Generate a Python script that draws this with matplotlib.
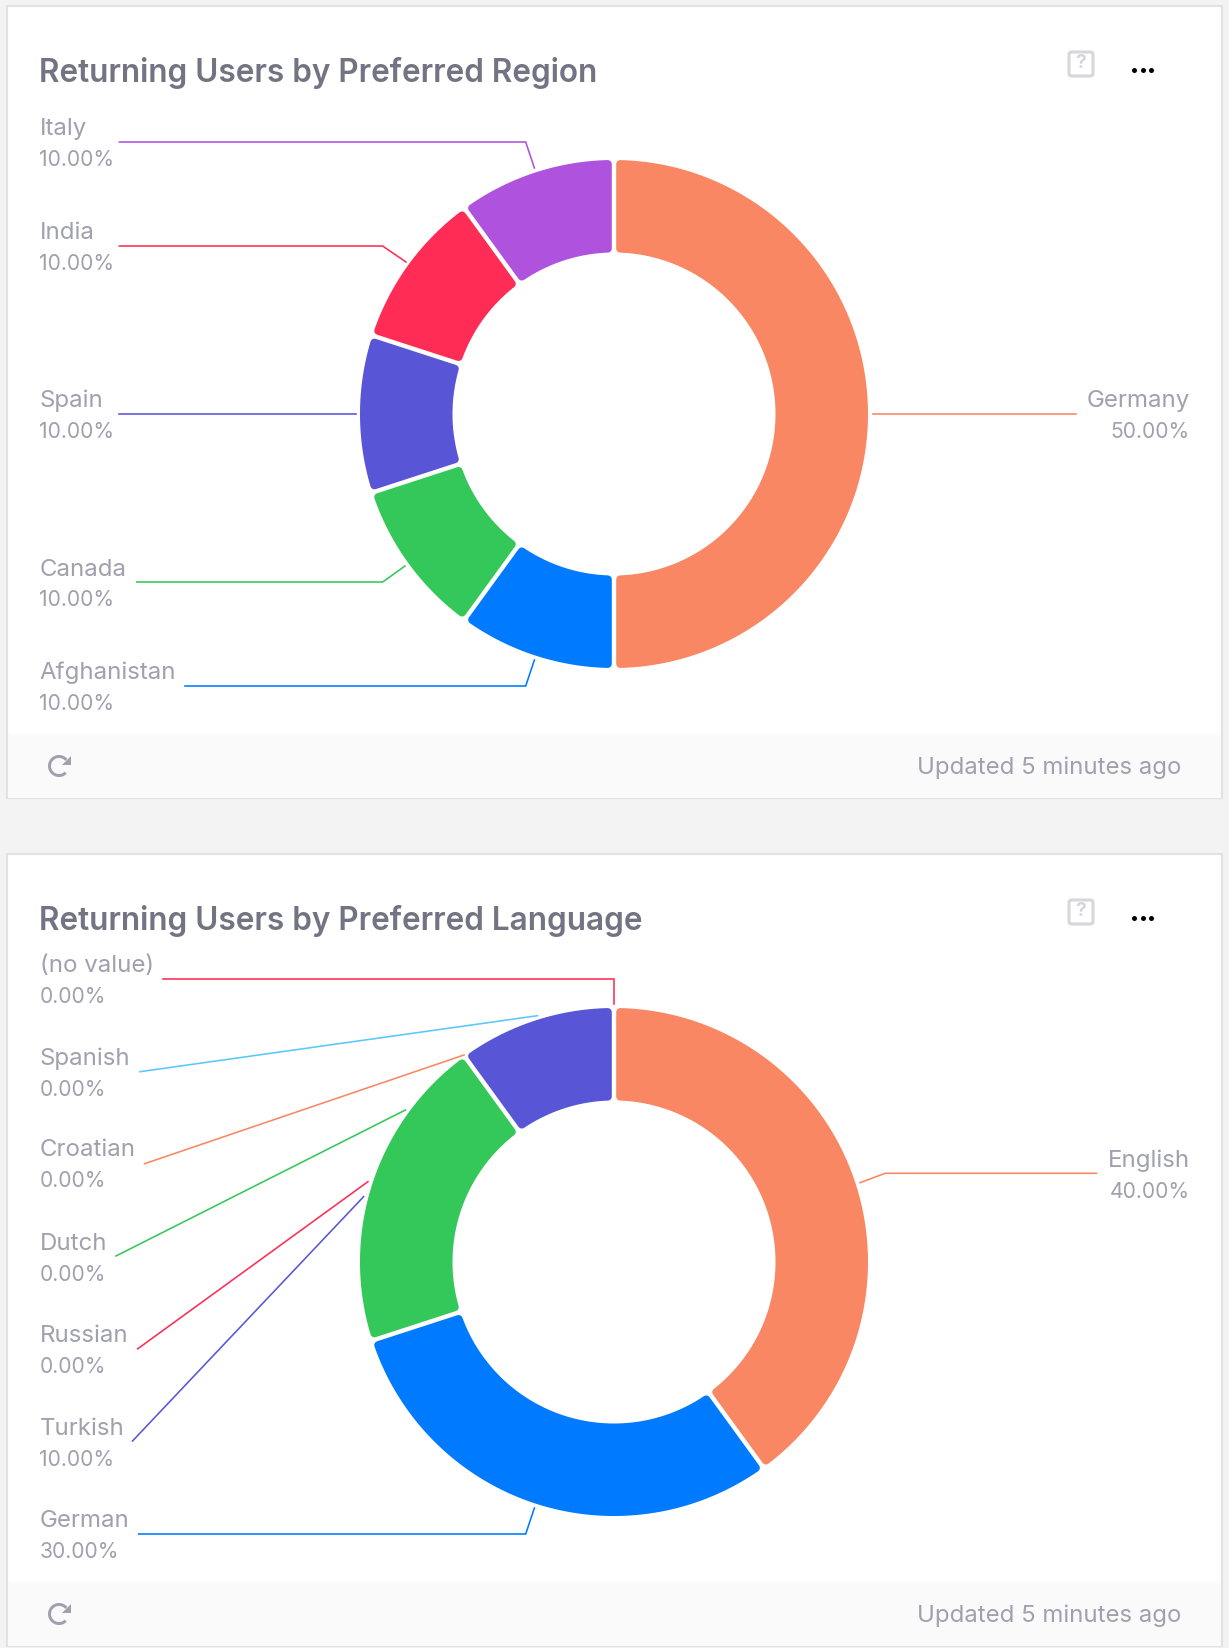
import numpy as np
import matplotlib
matplotlib.use("Agg")
import matplotlib.pyplot as plt
from matplotlib.patches import Arc, FancyBboxPatch, Polygon, Rectangle

plt.rcParams["font.family"] = ["Inter", "DejaVu Sans"]

W, H = 1229, 1648
PX = 72 / 100  # points per pixel at dpi 100

CARD_OFFSET = 848
CX, CY = 614, 414
R_OUT, R_IN = 254, 161.5
CORNER, HALF_GAP = 4.0, 2.2

ORANGE, BLUE, GREEN = "#F98763", "#007AFF", "#34C759"
INDIGO, RED, PURPLE, SKY = "#5856D6", "#FF2D55", "#AF52DE", "#5AC8FA"
TITLE_COL, LABEL_COL, ICON_COL = "#737383", "#A0A0AF", "#D6D6DC"

region_title = "Returning Users by Preferred Region"
region_slices = [50, 10, 10, 10, 10, 10]
region_colors = [ORANGE, BLUE, GREEN, INDIGO, RED, PURPLE]
region_names = ["Germany", "Afghanistan", "Canada", "Spain", "India", "Italy"]
region_pcts = ["50.00%", "10.00%", "10.00%", "10.00%", "10.00%", "10.00%"]

language_title = "Returning Users by Preferred Language"
language_slices = [40, 30, 20, 10]
language_colors = [ORANGE, BLUE, GREEN, INDIGO]
language_names = ["English", "German", "Turkish", "Russian", "Dutch", "Croatian", "Spanish", "(no value)"]
language_pcts = ["40.00%", "30.00%", "10.00%", "0.00%", "0.00%", "0.00%", "0.00%", "0.00%"]
language_line_colors = [ORANGE, BLUE, INDIGO, RED, GREEN, ORANGE, SKY, RED]

# leader lines in image pixels, same order as the names
region_leaders = [
    [(1075.5, 414), (872.5, 414)],
    [(185, 686), (525.7, 686), (534.4, 660)],
    [(136.7, 582), (382.7, 582), (405, 566)],
    [(119.4, 414), (355.7, 414)],
    [(119.4, 246), (382.6, 246), (406, 262)],
    [(119.4, 142), (525.7, 142), (534.4, 168)],
]
language_leaders = [
    [(1096.5, 1173.3), (885.2, 1173.3), (860, 1182.7)],
    [(138.8, 1534), (525.7, 1534), (534.4, 1508)],
    [(132.5, 1441), (363.6, 1196.7)],
    [(137.7, 1348.8), (367.9, 1181.7)],
    [(116, 1256), (405.4, 1110)],
    [(144.6, 1163.7), (464, 1055)],
    [(140, 1071.7), (537.5, 1015.7)],
    [(162.5, 979), (614, 979), (614, 1004)],
]
# y of the name line, x is fixed per side
region_label_y = [401, 673, 569.5, 401, 233, 129]
language_label_y = [1160.5, 1521, 1428.6, 1336, 1243.7, 1150, 1058.7, 966]


def ring_outline(theta1, theta2):
    """Wedge outline pulled in, so a round stroke gives the rounded corners."""
    ro, ri = R_OUT - CORNER, R_IN + CORNER
    d = HALF_GAP + CORNER
    a_o = np.degrees(np.arcsin(d / ro))
    a_i = np.degrees(np.arcsin(d / ri))
    to = np.radians(np.linspace(theta1 + a_o, theta2 - a_o, 120))
    ti = np.radians(np.linspace(theta2 - a_i, theta1 + a_i, 120))
    xs = np.r_[ro * np.cos(to), ri * np.cos(ti)]
    ys = np.r_[ro * np.sin(to), ri * np.sin(ti)]
    return np.c_[xs, ys]


def draw_donut(fig, cy, values, colors):
    pad = R_OUT + 6
    ax = fig.add_axes([(CX - pad) / W, 1 - (cy + pad) / H, 2 * pad / W, 2 * pad / H])
    wedges, _ = ax.pie(values, colors=colors, startangle=90, counterclock=False, radius=R_OUT)
    for w in wedges:
        ax.add_patch(Polygon(ring_outline(w.theta1, w.theta2), closed=True,
                             fc=w.get_facecolor(), ec=w.get_facecolor(),
                             lw=2 * CORNER * PX, joinstyle="round"))
        w.remove()
    ax.set_xlim(-pad, pad)
    ax.set_ylim(-pad, pad)
    ax.axis("off")
    return ax


def draw_card(ax, dy, title):
    ax.add_patch(Rectangle((6.5, 5.5 + dy), 1215.5, 792.5, fc="white", ec="#E2E2E2", lw=2.2 * PX))
    ax.add_patch(Rectangle((7.5, 734 + dy), 1213.5, 63.5, fc="#FAFAFA", ec="none"))
    ax.text(39, 72.5 + dy, title, fontsize=22.7, weight="semibold", color=TITLE_COL, va="center", ha="left")
    ax.text(1181.5, 768 + dy, "Updated 5 minutes ago", fontsize=17.25, color=LABEL_COL, va="center", ha="right")
    # help icon
    ax.add_patch(FancyBboxPatch((1069, 52 + dy), 24, 24, boxstyle="round,pad=0,rounding_size=2.5",
                                fc="none", ec=ICON_COL, lw=3 * PX))
    ax.text(1081, 63 + dy, "?", fontsize=14, weight="bold", color=ICON_COL, ha="center", va="center")
    # menu dots
    ax.plot([1134, 1143, 1151], [70 + dy] * 3, "o", ms=3.6, color="black", mew=0)
    # refresh icon
    ax.add_patch(Arc((59, 766 + dy), 19, 19, theta1=45, theta2=320, color=LABEL_COL, lw=3 * PX))
    ax.add_patch(Polygon([(70.5, 756 + dy), (70.5, 765 + dy), (62, 765 + dy)], fc=LABEL_COL, ec="none"))


def draw_labels(ax, names, pcts, ys, leaders, line_colors):
    for i, name in enumerate(names):
        right = leaders[i][0][0] > CX
        x = 1189.5 if right else 39.5
        ha = "right" if right else "left"
        ax.text(x, ys[i], name, fontsize=17.3, color=LABEL_COL, va="center", ha=ha)
        ax.text(x, ys[i] + 31, pcts[i], fontsize=15.2, color=LABEL_COL, va="center", ha=ha)
        pts = np.array(leaders[i])
        ax.plot(pts[:, 0], pts[:, 1], color=line_colors[i], lw=1.6 * PX, solid_joinstyle="miter")


fig = plt.figure(figsize=(W / 100, H / 100), dpi=100, facecolor="#F3F3F3")
page = fig.add_axes([0, 0, 1, 1])
page.set_xlim(0, W)
page.set_ylim(H, 0)
page.axis("off")

draw_card(page, 0, region_title)
draw_card(page, CARD_OFFSET, language_title)
draw_donut(fig, CY, region_slices, region_colors)
draw_donut(fig, CY + CARD_OFFSET, language_slices, language_colors)

# labels go on top of the donuts
overlay = fig.add_axes([0, 0, 1, 1], facecolor="none")
overlay.set_xlim(0, W)
overlay.set_ylim(H, 0)
overlay.axis("off")
draw_labels(overlay, region_names, region_pcts, region_label_y, region_leaders, region_colors)
draw_labels(overlay, language_names, language_pcts, language_label_y, language_leaders, language_line_colors)

fig.savefig("out.png", dpi=100)
plt.close(fig)
